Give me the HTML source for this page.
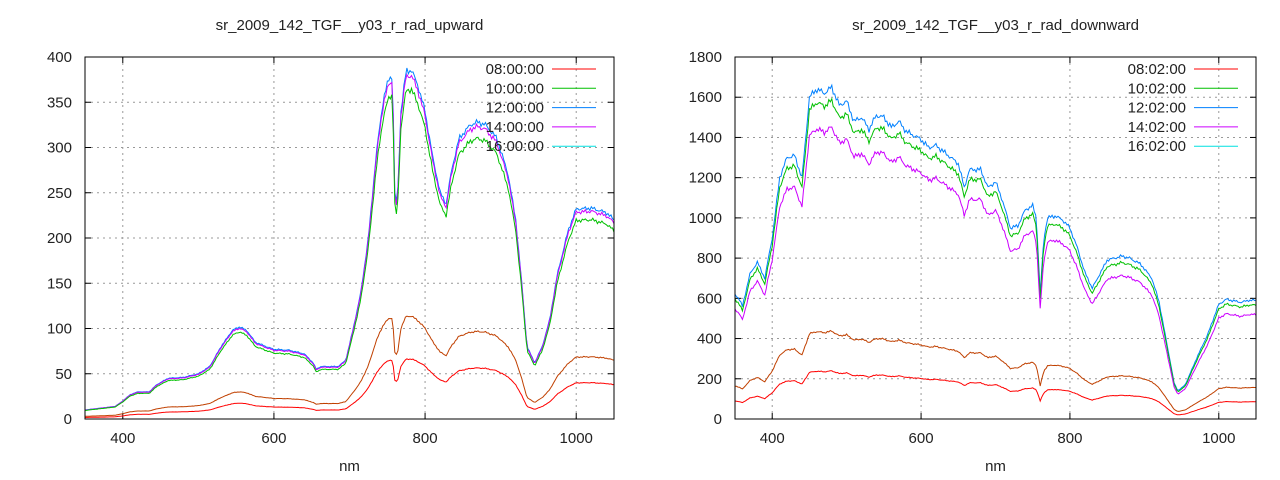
<!DOCTYPE html>
<html><head><meta charset="utf-8"><style>
html,body{margin:0;padding:0;background:#fff;width:1280px;height:480px;overflow:hidden}
svg text{font-family:"Liberation Sans",sans-serif;font-size:15px;fill:#222}
</style></head><body>
<svg id="s" width="1280" height="480" xmlns="http://www.w3.org/2000/svg"></svg>
<script>
const S=document.getElementById('s');let h='';
const up=[[350,10],[370,12],[390,14],[400,20],[410,27],[420,30],[435,30],[445,38],[460,45],[480,46],[500,50],[515,58],[530,80],[545,98],[555,102],[565,97],[575,85],[590,80],[600,77],[620,76],[640,72],[652,62],[656,55],[662,58],[685,58],[695,65],[705,100],[715,140],[725,200],[735,290],[745,355],[752,375],[757,380],[760,250],[763,235],[768,340],[775,385],[782,385],[790,370],[800,340],[810,290],[820,250],[828,238],[835,275],[845,310],[860,325],[870,328],[880,325],[895,310],[910,270],[920,220],[928,150],[935,80],[945,62],[955,80],[965,110],[975,160],[990,210],[1000,232],[1020,233],[1040,228],[1050,220]];
const dn=[[350,620],[355,600],[360,560],[370,720],[380,780],[390,700],[400,900],[410,1200],[420,1300],[430,1310],[440,1200],[450,1600],[460,1640],[470,1620],[480,1650],[490,1560],[500,1580],[510,1480],[520,1500],[530,1440],[540,1510],[550,1500],[560,1450],[570,1480],[580,1430],[600,1390],[610,1350],[620,1360],[640,1300],[650,1270],[658,1150],[665,1240],[680,1240],[690,1150],[700,1180],[710,1080],[720,950],[730,960],[740,1040],[750,1060],[755,1000],[760,620],[765,900],[770,1000],[780,1010],[790,990],[800,950],[810,850],[820,730],[830,650],[840,720],[850,790],[870,810],[880,800],[895,770],[910,700],[920,580],[930,380],[940,180],[945,140],[955,170],[970,300],[985,420],[1000,570],[1010,595],[1030,580],[1040,590],[1050,590]];
function val(k,x){for(let i=1;i<k.length;i++){if(x<=k[i][0]){const a=k[i-1],b=k[i];return a[1]+(b[1]-a[1])*(x-a[0])/(b[0]-a[0]);}}return k[k.length-1][1];}
function plot(x0,x1,ymax,ystep,keys,title,series){
 const y0=419,yt=57,X=n=>x0+(n-350)*(x1-x0)/700,Y=v=>y0-v*(y0-yt)/ymax;
 for(let n=400;n<=1000;n+=200){h+=`<line x1="${X(n)}" y1="${yt}" x2="${X(n)}" y2="${y0}" stroke="#999" stroke-dasharray="2,4"/>`;
  h+=`<line x1="${X(n)}" y1="${y0}" x2="${X(n)}" y2="${y0-6}" stroke="#000"/><line x1="${X(n)}" y1="${yt}" x2="${X(n)}" y2="${yt+6}" stroke="#000"/>`;
  h+=`<text x="${X(n)}" y="${y0+24}" text-anchor="middle">${n}</text>`;}
 for(let v=0;v<=ymax;v+=ystep){const y=Y(v);
  if(v>0&&v<ymax)h+=`<line x1="${x0}" y1="${y}" x2="${x1}" y2="${y}" stroke="#999" stroke-dasharray="2,4"/>`;
  h+=`<line x1="${x0}" y1="${y}" x2="${x0+6}" y2="${y}" stroke="#000"/><line x1="${x1}" y1="${y}" x2="${x1-6}" y2="${y}" stroke="#000"/>`;
  h+=`<text x="${x0-13}" y="${y+5}" text-anchor="end">${v}</text>`;}
 series.forEach((s,si)=>{let p=[];for(let n=350;n<=1050;n+=2){let v=val(keys,n)*s[1]*(1+0.006*Math.sin(n*1.7+si)+0.005*Math.sin(n*0.53));p.push(X(n).toFixed(1)+','+Y(v).toFixed(1));}
  h+=`<polyline points="${p.join(' ')}" fill="none" stroke="${s[0]}" stroke-width="1"/>`;});
 h+=`<rect x="${x0}" y="${yt}" width="${x1-x0}" height="${y0-yt}" fill="none" stroke="#000"/>`;
 h+=`<text x="${(x0+x1)/2}" y="30" text-anchor="middle">${title}</text><text x="${(x0+x1)/2}" y="471" text-anchor="middle">nm</text>`;
}
plot(85,614,400,50,up,'sr_2009_142_TGF__y03_r_rad_upward',[['#c04000',0.295],['#ff0000',0.172],['#0080ff',1],['#cc00ff',0.985],['#00c000',0.945]]);
plot(735,1256,1800,200,dn,'sr_2009_142_TGF__y03_r_rad_downward',[['#c04000',0.265],['#ff0000',0.145],['#0080ff',1],['#00c000',0.96],['#cc00ff',0.88]]);
function leg(xr,lab){const c=['#ff0000','#00c000','#0080ff','#cc00ff','#00e0e0'];lab.forEach((l,i)=>{const y=69+i*19.3;h+=`<text x="${xr-60}" y="${y+5}" text-anchor="end">${l}</text><line x1="${xr-52}" y1="${y}" x2="${xr-8}" y2="${y}" stroke="${c[i]}"/>`;});}
leg(604,['08:00:00','10:00:00','12:00:00','14:00:00','16:00:00']);
leg(1246,['08:02:00','10:02:00','12:02:00','14:02:00','16:02:00']);
S.innerHTML=h;
</script>
</body></html>
